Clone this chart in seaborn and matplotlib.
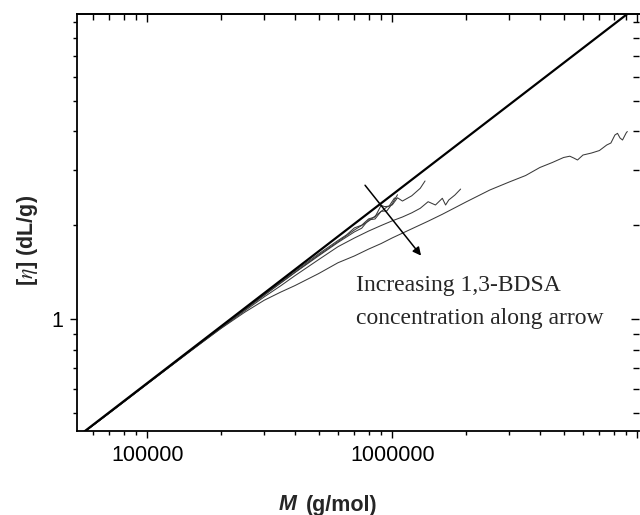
import numpy as np
import pandas as pd
import matplotlib
matplotlib.use("Agg")
import matplotlib.pyplot as plt
import seaborn as sns
from matplotlib.ticker import FuncFormatter, NullFormatter, LogLocator

# ---------------- data ----------------
# Mark-Houwink reference line (end points)
fit_M = [5.0e4, 1.0e7]
fit_eta = [0.411, 10.08]

# curve A (lowest, widest M range)
A_M = [5.5e4, 7.0e4, 1.0e5, 1.5e5, 2.0e5, 2.5e5, 3.0e5, 3.5e5, 4.0e5, 5.0e5,
       6.0e5, 7.0e5, 8.0e5, 9.0e5, 1.0e6, 1.2e6, 1.4e6, 1.6e6, 2.0e6, 2.5e6,
       3.0e6, 3.5e6, 4.0e6, 4.5e6, 5.0e6, 5.3e6, 5.5e6, 5.7e6, 6.0e6, 6.5e6,
       7.0e6, 7.5e6, 7.8e6, 8.1e6, 8.3e6, 8.5e6, 8.7e6, 9.0e6, 9.1e6]
A_eta = [0.434, 0.500, 0.620, 0.792, 0.935, 1.054, 1.151, 1.222, 1.282, 1.401,
         1.518, 1.596, 1.679, 1.749, 1.824, 1.950, 2.063, 2.171, 2.378, 2.597,
         2.755, 2.890, 3.066, 3.182, 3.301, 3.333, 3.289, 3.241, 3.362, 3.412,
         3.475, 3.620, 3.674, 3.897, 3.946, 3.812, 3.756, 3.955, 3.999]

# curve B
B_M = [5.5e4, 7.0e4, 1.0e5, 1.5e5, 2.0e5, 2.5e5, 3.0e5, 3.5e5, 4.0e5, 5.0e5,
       6.0e5, 7.0e5, 8.0e5, 9.0e5, 1.0e6, 1.1e6, 1.2e6, 1.3e6, 1.4e6, 1.5e6,
       1.6e6, 1.65e6, 1.7e6, 1.8e6, 1.9e6]
B_eta = [0.434, 0.501, 0.621, 0.790, 0.937, 1.065, 1.180, 1.280, 1.379, 1.553,
         1.709, 1.822, 1.918, 1.998, 2.069, 2.128, 2.194, 2.269, 2.382, 2.325,
         2.443, 2.325, 2.413, 2.502, 2.615]

# curve C
C_M = [5.5e4, 1.0e5, 2.0e5, 3.0e5, 4.0e5, 5.0e5, 6.0e5, 7.0e5, 8.0e5, 9.0e5,
       9.5e5, 1.0e6, 1.05e6, 1.1e6, 1.2e6, 1.3e6, 1.36e6]
C_eta = [0.434, 0.622, 0.942, 1.197, 1.414, 1.606, 1.773, 1.933, 2.064, 2.216,
         2.291, 2.328, 2.452, 2.394, 2.488, 2.630, 2.776]

# curve D
D_M = [5.5e4, 1.0e5, 2.0e5, 3.0e5, 4.0e5, 5.0e5, 6.0e5, 6.5e5, 7.0e5, 7.5e5,
       8.0e5, 8.5e5, 9.0e5, 9.3e5, 9.7e5, 1.02e6, 1.04e6]
D_eta = [0.435, 0.624, 0.947, 1.205, 1.427, 1.620, 1.789, 1.864, 1.963, 2.003,
         2.098, 2.128, 2.319, 2.297, 2.305, 2.447, 2.440]

# curve E
E_M = [5.5e4, 1.0e5, 2.0e5, 3.0e5, 4.0e5, 5.0e5, 6.0e5, 7.0e5, 7.5e5, 8.0e5,
       8.5e5, 9.0e5, 9.5e5, 1.0e6, 1.05e6]
E_eta = [0.433, 0.622, 0.942, 1.194, 1.411, 1.597, 1.763, 1.906, 1.959, 2.083,
         2.097, 2.219, 2.226, 2.348, 2.508]

# arrow (start, end) in data units
arrow_M = [7.74e5, 1.31e6]
arrow_eta = [2.69, 1.60]

x_tick_labels = {1e5: "100000", 1e6: "1000000"}
y_tick_labels = {1.0: "1"}

annot_lines = ["Increasing 1,3-BDSA", "concentration along arrow"]

# ---------------- style ----------------
sns.set_theme(style="ticks")
plt.rcParams["font.family"] = ["Liberation Sans", "DejaVu Sans"]
plt.rcParams["mathtext.fontset"] = "stix"

fig = plt.figure(figsize=(6.4, 5.15), dpi=100)
W, H = 640, 515
ax = fig.add_axes([77.3 / W, (H - 430.7) / H, (638.5 - 77.3) / W, (430.7 - 14) / H])

curve_color = "#3a3a3a"
for Ms, etas in [(A_M, A_eta), (B_M, B_eta), (C_M, C_eta), (D_M, D_eta), (E_M, E_eta)]:
    sns.lineplot(x=Ms, y=etas, ax=ax, color=curve_color, lw=0.75,
                 sort=False, estimator=None)

sns.lineplot(x=fit_M, y=fit_eta, ax=ax, color="black", lw=1.6,
             sort=False, estimator=None)

ax.set_xscale("log")
ax.set_yscale("log")
ax.set_xlim(5.18e4, 1.011e7)
ax.set_ylim(0.4395, 9.52)

ax.annotate("", xy=(arrow_M[1], arrow_eta[1]), xytext=(arrow_M[0], arrow_eta[0]),
            arrowprops=dict(arrowstyle="-|>", color="black", lw=1.1,
                            mutation_scale=12, shrinkA=0, shrinkB=0))


def fmt_factory(mapping):
    def f(v, p):
        for k, s in mapping.items():
            if abs(v - k) / k < 1e-6:
                return s
        return ""
    return f


# ticks
ax.xaxis.set_major_locator(LogLocator(base=10, subs=[1.0]))
ax.xaxis.set_minor_locator(LogLocator(base=10, subs=np.arange(2, 10)))
ax.yaxis.set_major_locator(LogLocator(base=10, subs=[1.0]))
ax.yaxis.set_minor_locator(LogLocator(base=10, subs=np.arange(2, 10)))
ax.xaxis.set_major_formatter(FuncFormatter(fmt_factory(x_tick_labels)))
ax.yaxis.set_major_formatter(FuncFormatter(fmt_factory(y_tick_labels)))
ax.xaxis.set_minor_formatter(NullFormatter())
ax.yaxis.set_minor_formatter(NullFormatter())
ax.tick_params(which="both", direction="out", width=1.0, colors="black",
               labelsize=15.5, pad=5, top=False, right=False)
ax.tick_params(which="major", length=5)
ax.tick_params(which="minor", length=3)

for s in ["left", "bottom", "top"]:
    ax.spines[s].set_linewidth(1.3)
    ax.spines[s].set_color("black")
ax.spines["right"].set_visible(False)

secx = ax.secondary_xaxis("top")
secx.xaxis.set_major_locator(LogLocator(base=10, subs=[1.0]))
secx.xaxis.set_minor_locator(LogLocator(base=10, subs=np.arange(2, 10)))
secx.xaxis.set_major_formatter(NullFormatter())
secx.xaxis.set_minor_formatter(NullFormatter())
secx.tick_params(which="both", direction="in", width=1.0, colors="black",
                 labeltop=False, labelbottom=False)
secx.tick_params(which="major", length=6)
secx.tick_params(which="minor", length=4)
secx.spines["top"].set_linewidth(1.3)

secy = ax.secondary_yaxis("right")
secy.yaxis.set_major_locator(LogLocator(base=10, subs=[1.0]))
secy.yaxis.set_minor_locator(LogLocator(base=10, subs=np.arange(2, 10)))
secy.yaxis.set_major_formatter(NullFormatter())
secy.yaxis.set_minor_formatter(NullFormatter())
secy.tick_params(which="both", direction="in", width=1.0, colors="black",
                 labelright=False, labelleft=False)
secy.tick_params(which="major", length=6)
secy.tick_params(which="minor", length=4)
secy.spines["right"].set_visible(False)

ax.set_xlabel("")
ax.set_ylabel("")

# axis labels
fig.text(296.5 / W, 1 - 505 / H, "M", ha="right", va="center", fontsize=15.5,
         fontweight="bold", fontstyle="italic")
fig.text(305.5 / W, 1 - 505 / H, "(g/mol)", ha="left", va="center", fontsize=15.5,
         fontweight="bold")
fig.text(27.5 / W, 1 - 240 / H, r"[$\eta$] (dL/g)", ha="center", va="center",
         rotation=90, fontsize=15.5, fontweight="bold")

# annotation text
ax.text(7.1e5, 1.288, annot_lines[0], ha="left", va="center", fontsize=17,
        family=["Liberation Serif", "DejaVu Serif"])
ax.text(7.1e5, 1.0097, annot_lines[1], ha="left", va="center", fontsize=17,
        family=["Liberation Serif", "DejaVu Serif"])

fig.savefig("out.png", dpi=100)
